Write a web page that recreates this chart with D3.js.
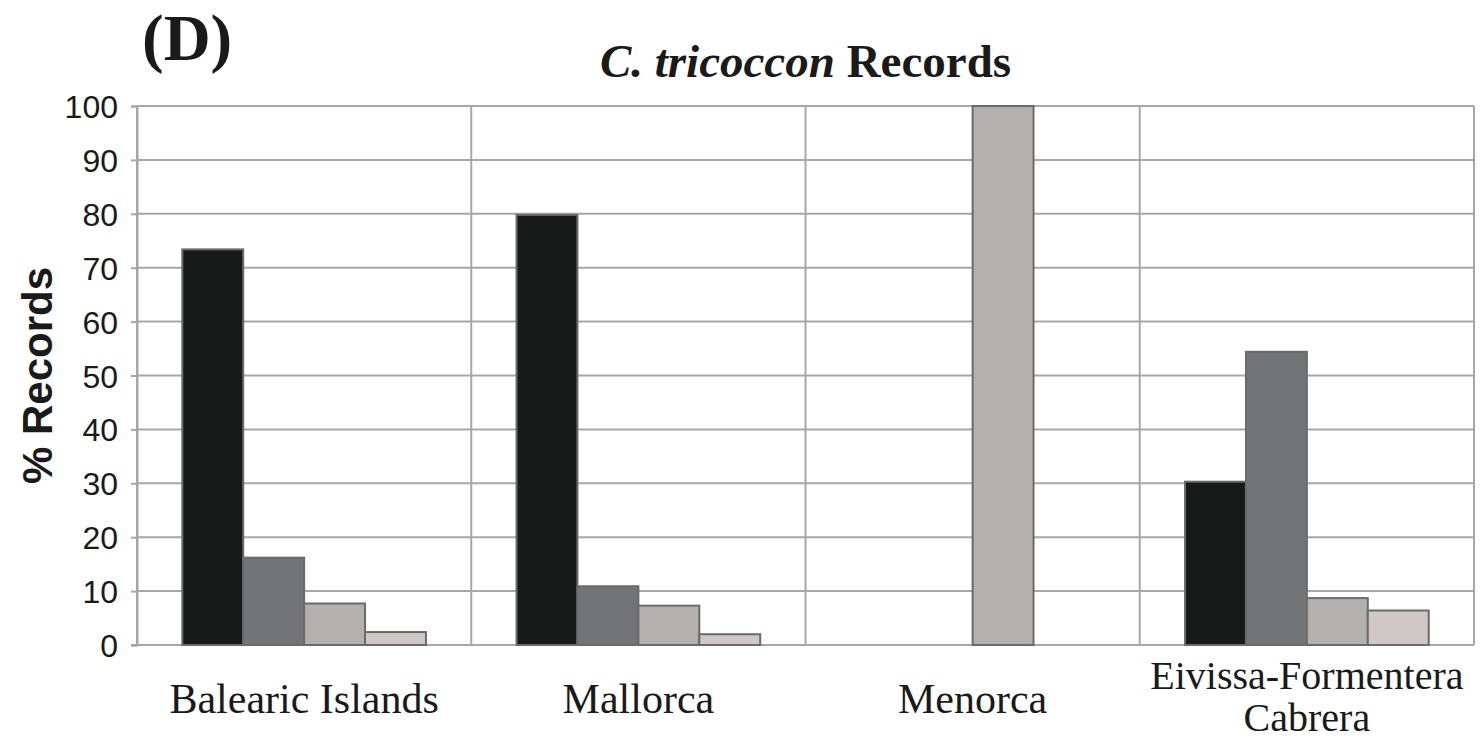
<!DOCTYPE html>
<html>
<head>
<meta charset="utf-8">
<script src="https://cdn.jsdelivr.net/npm/d3@7"></script>
<style>
  html, body { margin: 0; padding: 0; background: #fff; }
  svg { display: block; }
</style>
</head>
<body>
<svg id="chart" width="1484" height="740"></svg>
<script>
// Island groups along the x axis (label lines)
const categories = [
  ["Balearic Islands"],
  ["Mallorca"],
  ["Menorca"],
  ["Eivissa-Formentera", "Cabrera"]
];
const categoryKeys = ["Balearic Islands", "Mallorca", "Menorca", "Eivissa-Formentera Cabrera"];

// Four record classes per island group (% of records)
const seriesNames = ["s1", "s2", "s3", "s4"];
const seriesA = [73.4, 79.8, 0, 30.3];
const seriesB = [16.2, 10.9, 0, 54.4];
const seriesC = [7.7, 7.3, 100, 8.7];
const seriesD = [2.4, 2.0, 0, 6.4];
const seriesColors = ["#181a19", "#737476", "#b3b0af", "#d0c8c6"];

const yTicks = [0, 10, 20, 30, 40, 50, 60, 70, 80, 90, 100];

const allSeries = [seriesA, seriesB, seriesC, seriesD];

const svg = d3.select("#chart");
const margin = { left: 137, right: 10, top: 106, bottom: 95 };
const W = 1484, H = 740;
const plotW = W - margin.left - margin.right;
const plotH = H - margin.top - margin.bottom;

const g = svg.append("g").attr("transform", `translate(${margin.left},${margin.top})`);

const x0 = d3.scaleBand().domain(categoryKeys).range([0, plotW]).padding(0);
const pad = x0.bandwidth() * 0.1355;
const x1 = d3.scaleBand().domain(seriesNames).range([pad, x0.bandwidth() - pad]).padding(0);
const y = d3.scaleLinear().domain([0, 100]).range([plotH, 0]);

const gridColor = "#a7a7a7";

// horizontal gridlines
g.append("g").selectAll("line").data(yTicks).join("line")
  .attr("x1", 0).attr("x2", plotW)
  .attr("y1", d => y(d)).attr("y2", d => y(d))
  .attr("stroke", gridColor).attr("stroke-width", 2);

// vertical category separators
const seps = categoryKeys.map(k => x0(k)).concat([plotW]);
g.append("g").selectAll("line").data(seps).join("line")
  .attr("x1", d => d).attr("x2", d => d)
  .attr("y1", y(100)).attr("y2", y(0))
  .attr("stroke", gridColor).attr("stroke-width", 2);

// y axis
const yAxis = d3.axisLeft(y).tickValues(yTicks).tickSize(6).tickPadding(13);
const ya = g.append("g").call(yAxis);
ya.select(".domain").attr("stroke", gridColor).attr("stroke-width", 2);
ya.selectAll(".tick line").attr("stroke", gridColor).attr("stroke-width", 2);
ya.selectAll(".tick text")
  .attr("font-family", "Liberation Sans, Arial, sans-serif")
  .attr("font-size", 32).attr("fill", "#1a1a1a").attr("dy", "0.36em");

// x axis baseline
g.append("line").attr("x1", -6).attr("x2", plotW)
  .attr("y1", y(0)).attr("y2", y(0))
  .attr("stroke", gridColor).attr("stroke-width", 2);

// bars
const groups = g.append("g").selectAll("g").data(categoryKeys).join("g")
  .attr("transform", k => `translate(${x0(k)},0)`);
groups.selectAll("rect")
  .data((k, i) => seriesNames.map((s, j) => ({ s, j, v: allSeries[j][i] })).filter(d => d.v > 0))
  .join("rect")
  .attr("x", d => x1(d.s))
  .attr("width", x1.bandwidth())
  .attr("y", d => y(d.v))
  .attr("height", d => y(0) - y(d.v))
  .attr("fill", d => seriesColors[d.j])
  .attr("stroke", "#6b6b6b").attr("stroke-width", 2);

// x category labels (single-line labels; wrapped label drawn as separate lines)
const xLabelG = g.append("g")
  .attr("font-family", "Liberation Serif, Times New Roman, serif")
  .attr("fill", "#1a1a1a")
  .attr("text-anchor", "middle");
categories.forEach((lines, i) => {
  const cx = x0(categoryKeys[i]) + x0.bandwidth() / 2;
  const multi = lines.length > 1;
  lines.forEach((line, li) => {
    xLabelG.append("text")
      .attr("x", cx)
      .attr("y", multi ? plotH + 44 + li * 42 : plotH + 68)
      .attr("font-size", multi ? 40 : 42)
      .text(line);
  });
});

// y axis title
svg.append("text")
  .attr("transform", `translate(52,${margin.top + plotH / 2}) rotate(-90)`)
  .attr("text-anchor", "middle")
  .attr("font-family", "Liberation Sans, Arial, sans-serif")
  .attr("font-weight", "bold").attr("font-size", 42).attr("fill", "#1a1a1a")
  .text("% Records");

// chart title
const title = svg.append("text")
  .attr("x", margin.left + plotW / 2).attr("y", 77)
  .attr("text-anchor", "middle")
  .attr("font-family", "Liberation Serif, Times New Roman, serif")
  .attr("font-weight", "bold").attr("font-size", 47).attr("fill", "#1a1a1a");
title.append("tspan").attr("font-style", "italic").text("C. tricoccon");
title.append("tspan").text(" Records");

// panel letter
svg.append("text")
  .attr("x", 142).attr("y", 60)
  .attr("font-family", "Liberation Serif, Times New Roman, serif")
  .attr("font-weight", "bold").attr("font-size", 65).attr("fill", "#1a1a1a")
  .text("(D)");
</script>
</body>
</html>
